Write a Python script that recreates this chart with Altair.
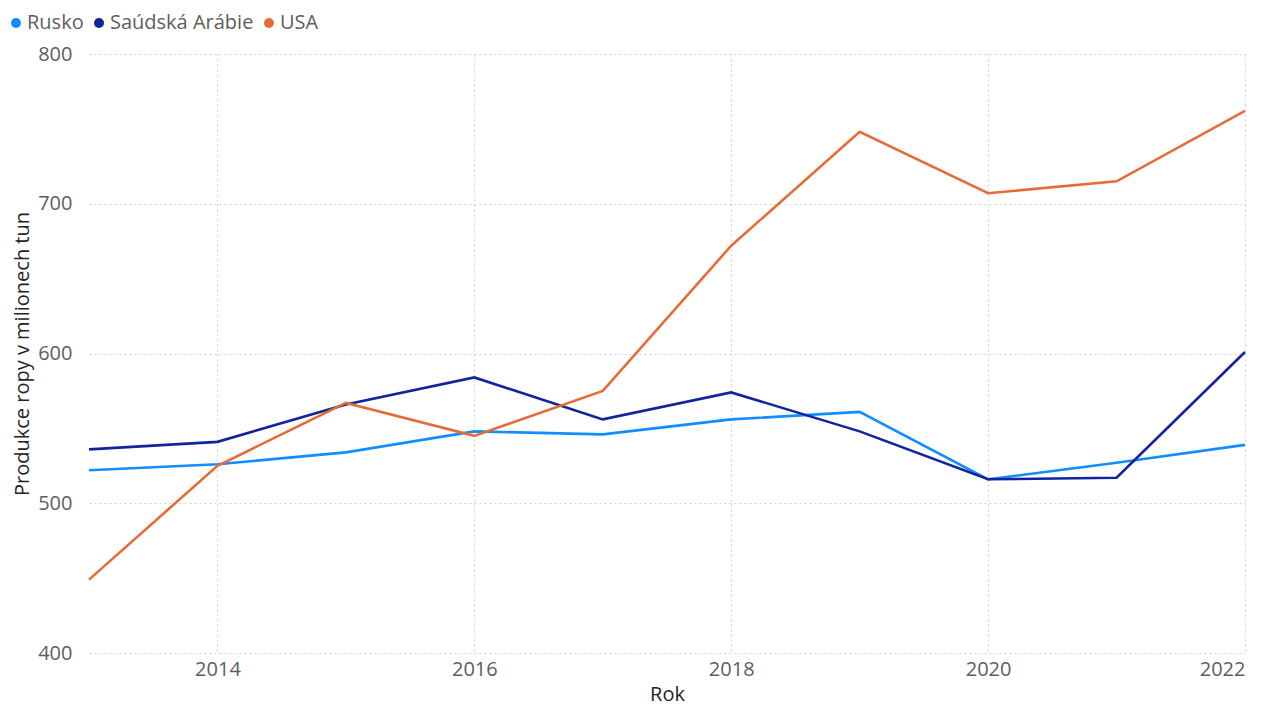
import altair as alt
import pandas as pd

years = list(range(2013, 2023))
rusko = [522, 526, 534, 548, 546, 556, 561, 516, 527, 539]
saudi = [536, 541, 566, 584, 556, 574, 548, 516, 517, 601]
usa = [449, 525, 567, 545, 575, 672, 748, 707, 715, 762]
series = ["Rusko", "Saúdská Arábie", "USA"]
colors = ["#118DFF", "#12239E", "#E66C37"]

rows = []
for name, vals in zip(series, [rusko, saudi, usa]):
    for y, v in zip(years, vals):
        rows.append({"Rok": y, "Hodnota": v, "Země": name})
df = pd.DataFrame(rows)

FONT = "Open Sans"

x_enc = alt.X("Rok:Q",
              scale=alt.Scale(domain=[2013, 2022], nice=False, zero=False),
              axis=alt.Axis(values=[2014, 2016, 2018, 2020, 2022], format="d",
                            title="Rok", grid=True, gridDash=[2, 3], gridColor="#D0D0D0",
                            domain=False, ticks=False, labelFontSize=20, labelColor="#605E5C",
                            labelPadding=6, titleFontSize=20, titleColor="#252423",
                            titleFontWeight="normal", titlePadding=5, labelFont=FONT, titleFont=FONT))
y_enc = alt.Y("Hodnota:Q",
              scale=alt.Scale(domain=[400, 800], nice=False, zero=False),
              axis=alt.Axis(values=[400, 500, 600, 700, 800], title="Produkce ropy v milionech tun",
                            grid=True, gridDash=[2, 3], gridColor="#D0D0D0",
                            domain=False, ticks=False, labelFontSize=20, labelColor="#605E5C",
                            labelPadding=17, titleFontSize=20, titleColor="#252423",
                            titleFontWeight="normal", titlePadding=5, labelFont=FONT, titleFont=FONT))
color_scale = alt.Scale(domain=series, range=colors)

lines = alt.Chart(df).mark_line(strokeWidth=2.6).encode(
    x=x_enc, y=y_enc,
    color=alt.Color("Země:N", scale=color_scale, legend=None),
)

dots = alt.Chart(df).mark_circle(opacity=1, size=0).encode(
    x=x_enc, y=y_enc,
    color=alt.Color("Země:N", scale=color_scale,
                    legend=alt.Legend(title=None, orient="none", legendX=-83, legendY=-41,
                                      direction="horizontal", symbolType="circle",
                                      symbolSize=100, symbolOpacity=1, symbolStrokeWidth=0,
                                      labelFontSize=20, labelColor="#605E5C", labelFont=FONT,
                                      columnPadding=5, labelOffset=1)),
)

chart = alt.layer(lines, dots).resolve_legend(color="independent").properties(
    width=1156, height=599,
    padding={"left": 81, "top": 46, "right": 15, "bottom": 54},
    autosize=alt.AutoSizeParams(type="none"),
).configure_view(stroke=None)

chart.save("out.html", embed_options={"renderer": "svg", "actions": False})
